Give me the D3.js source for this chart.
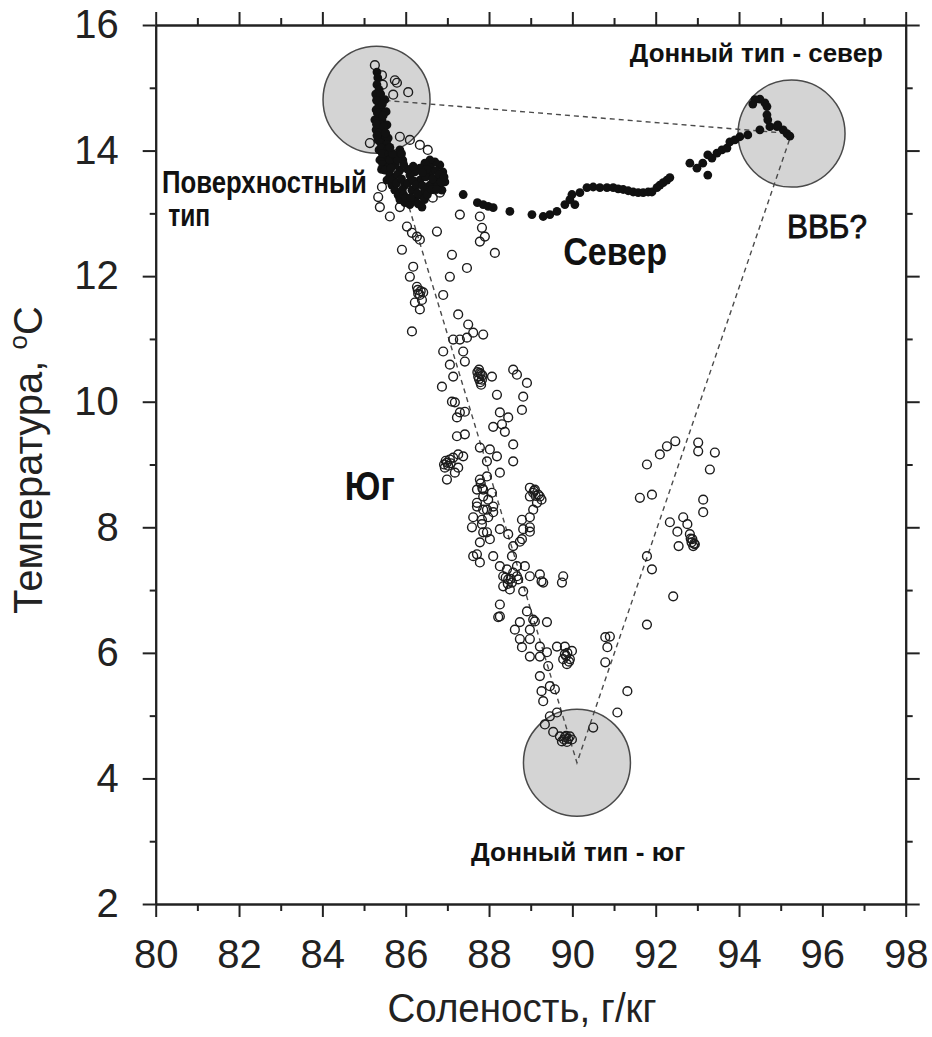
<!DOCTYPE html>
<html>
<head>
<meta charset="utf-8">
<script src="https://cdn.jsdelivr.net/npm/d3@7"></script>
<style>
  body { margin: 0; background: #fff; }
  svg { display: block; }
  text { font-family: "Liberation Sans", Arial, Helvetica, sans-serif; }
</style>
</head>
<body>
<svg id="chart" width="932" height="1037"></svg>
<script>
// axis ticks
const xTicks = [80, 82, 84, 86, 88, 90, 92, 94, 96, 98];
const xMinor = [81, 83, 85, 87, 89, 91, 93, 95, 97];
const yTicks = [2, 4, 6, 8, 10, 12, 14, 16];
const yMinor = [3, 5, 7, 9, 11, 13, 15];

// water types (salinity, temperature) - centres of the grey circles / triangle
const waterTypes = [
  [85.30, 14.81],  // поверхностный
  [95.26, 14.27],  // донный - север
  [90.11, 4.25]    // донный - юг
];

// "Юг" - open circles  [salinity, temperature]
const southPoints = [
  [85.26,15.36],[85.43,15.20],[85.45,15.05],[85.74,15.12],[86.06,14.93],[85.70,14.89],[85.79,15.08],
  [85.14,14.12],[85.86,14.22],[86.10,14.17],[86.34,14.09],[86.53,14.01],[86.27,13.58],[86.65,13.25],[86.82,13.33],
  [85.43,13.42],[85.34,13.26],[85.38,13.10],[85.62,12.95],[85.86,13.10],[86.03,12.79],[86.15,12.69],[86.27,12.63],[86.34,12.58],[86.75,12.71],
  [87.30,12.98],[87.78,12.95],[87.83,12.77],[87.90,12.63],[87.78,12.55],[88.14,12.37],[85.91,12.42],[86.18,12.15],[86.10,11.99],[87.11,12.34],[87.06,11.99],[87.47,12.13],
  [86.27,11.83],[86.42,11.74],[86.39,11.62],[86.34,11.47],[86.22,11.58],[86.34,11.70],[86.29,11.78],[86.30,11.72],[86.36,11.76],[86.15,11.12],
  [86.90,11.70],[87.26,11.39],[87.50,11.23],[87.62,11.10],[87.86,11.07],
  [87.14,10.99],[87.30,10.99],[87.47,11.02],[86.90,10.80],[87.38,10.80],[87.42,10.64],[87.06,10.59],[87.14,10.40],[86.87,10.24],
  [87.78,10.46],[87.83,10.35],[87.76,10.51],[87.81,10.27],[87.74,10.40],[87.80,10.44],[87.76,10.36],[87.84,10.42],[87.79,10.31],[87.72,10.47],
  [88.07,10.40],[88.19,10.11],[88.58,10.51],[88.67,10.43],[88.91,10.30],[88.82,10.08],[88.79,9.87],
  [87.11,10.00],[87.42,9.84],[87.23,9.75],[88.26,9.83],[88.46,9.75],[88.10,9.60],[88.38,9.52],[87.23,9.45],[87.42,9.48],[88.58,9.32],[87.78,9.27],[88.02,9.24],[88.19,9.13],[87.95,9.05],[88.58,9.05],
  [87.26,9.16],[87.38,9.13],[86.99,9.03],[86.94,8.95],[87.06,9.08],[86.96,9.06],[87.02,8.98],[87.08,9.02],[86.92,9.00],
  [86.99,8.76],[87.18,8.87],[88.26,8.87],[87.78,8.76],[87.95,8.81],[87.80,8.70],[87.84,8.62],[87.71,8.60],[87.86,8.49],[88.07,8.55],
  [87.71,8.33],[87.95,8.28],[87.62,8.16],[87.83,8.12],[88.10,8.24],[87.59,8.00],[87.86,7.92],[88.26,7.97],[88.46,7.89],[87.78,7.76],[88.02,7.81],
  [88.98,8.63],[89.06,8.55],[89.08,8.58],[89.12,8.50],[89.22,8.49],[89.15,8.39],[89.06,8.28],[88.98,8.16],[88.79,8.12],[88.82,7.97],[88.98,8.00],[88.74,7.77],[88.58,7.70],
  [87.62,7.54],[87.78,7.44],[88.10,7.54],[88.26,7.38],[88.43,7.33],[88.67,7.38],[88.34,7.22],[88.46,7.17],[88.58,7.28],[88.70,7.17],[88.40,7.20],[88.52,7.18],[88.45,7.10],
  [88.50,7.01],[88.82,6.98],[88.98,7.22],[89.22,7.25],[89.30,7.12],[89.78,7.22],[89.75,7.12],
  [88.26,6.77],[88.26,6.58],[88.91,6.66],[89.06,6.53],[88.74,6.49],[89.39,6.49],
  [87.30,9.83],[87.18,9.99],[87.14,9.11],[87.26,8.95],[88.31,9.64],[87.86,8.60],[87.98,8.44],[87.71,8.39],[87.86,8.28],[88.10,8.33],[87.83,8.05],[87.98,8.16],
  [87.95,7.92],[87.71,7.57],[88.34,7.06],[88.55,7.12],[88.67,7.22],[88.86,7.38],[88.55,7.54],[88.79,7.81],[88.98,7.93],[88.98,8.49],[89.10,8.60],[89.18,8.52],[89.26,8.44],[89.26,7.14],
  [88.22,6.57],[88.62,6.37],[88.98,6.37],[89.10,6.50],[88.74,6.22],[88.98,6.22],[88.79,6.09],[88.98,5.94],[89.22,6.10],[89.22,5.94],[89.39,6.01],[89.42,5.79],
  [89.22,5.63],[89.26,5.39],[89.30,5.23],[89.46,5.47],[89.58,5.42],[89.63,5.05],[89.46,4.99],[89.34,4.86],[89.54,4.74],
  [89.63,6.10],[89.82,6.10],[89.82,5.98],[89.94,5.90],[89.87,5.82],[89.99,6.03],[89.78,5.90],[89.85,5.95],[89.92,5.86],[89.88,6.00],
  [89.70,4.67],[89.82,4.66],[89.94,4.67],[89.87,4.58],[89.75,4.59],[89.99,4.62],[89.80,4.62],[89.90,4.63],[89.85,4.68],[90.50,4.81],
  [91.08,5.05],[91.32,5.39],[90.79,5.85],[90.84,6.09],[90.79,6.25],[90.90,6.26],[91.79,6.45],[92.42,6.90],[91.79,7.54],[91.91,7.33],
  [91.62,8.47],[91.91,8.52],[91.79,9.00],[92.10,9.16],[92.27,9.29],[92.47,9.37],[93.02,9.35],[93.02,9.21],[93.42,9.19],[93.30,8.92],[93.14,8.44],[93.14,8.24],
  [92.34,8.08],[92.66,8.16],[92.76,8.05],[92.52,7.93],[92.55,7.70],[92.88,7.81],[92.82,7.89],[92.94,7.73],[92.90,7.70],[92.86,7.76],[92.92,7.74],[92.84,7.82]
];

// "Север" - filled dots  [salinity, temperature]
const northPoints = [
  [85.31,15.25],[85.33,15.16],[85.31,15.05],[85.36,14.97],[85.33,14.89],[85.38,14.81],[85.36,14.73],[85.41,14.65],[85.38,14.57],[85.43,14.49],
  [85.41,14.41],[85.45,14.33],[85.43,14.25],[85.48,14.17],[85.45,14.09],[85.50,14.01],[85.53,13.93],[85.48,13.85],[85.55,13.77],[85.29,14.65],
  [85.26,14.49],[85.29,14.33],[85.33,14.17],[85.36,14.01],[85.38,13.85],[85.50,14.81],[85.53,14.62],[85.55,14.41],[85.58,14.20],
  [85.28,14.90],[85.40,14.90],[85.30,14.80],[85.44,14.74],[85.32,14.60],[85.46,14.56],[85.30,14.42],[85.47,14.38],[85.35,14.28],[85.52,14.28],
  [85.31,14.24],[85.40,14.12],[85.55,14.10],[85.42,14.04],[85.58,14.03],[85.44,13.95],[85.60,13.95],[85.45,13.78],[85.60,13.75],[85.42,13.70],
  [85.50,13.69],[85.62,13.61],[85.55,13.53],[85.67,13.45],[85.74,13.37],[85.82,13.29],[85.86,13.22],[85.98,13.17],[86.10,13.14],[86.22,13.22],
  [86.34,13.29],[86.46,13.37],[86.58,13.45],[86.70,13.53],[86.82,13.57],[86.89,13.66],[86.82,13.77],[86.70,13.82],[86.58,13.85],[86.46,13.80],
  [86.34,13.72],[86.22,13.66],[86.10,13.61],[85.86,13.69],[85.74,13.77],[85.98,13.45],[86.15,13.37],[86.34,13.53],[86.58,13.61],[86.77,13.45],
  [86.87,13.37],[86.94,13.50],[85.62,13.85],[85.74,13.93],[85.86,14.01],[85.93,13.85],[86.39,13.10],
  [85.65,13.72],[85.70,13.55],[85.78,13.48],[85.80,13.62],[85.90,13.55],[85.92,13.38],[85.95,13.30],[86.00,13.25],[86.05,13.48],[86.05,13.70],
  [86.12,13.25],[86.18,13.52],[86.25,13.45],[86.28,13.32],[86.30,13.15],[86.40,13.44],[86.45,13.22],[86.48,13.58],[86.52,13.30],[86.60,13.72],
  [86.62,13.38],[86.65,13.55],[86.72,13.68],[86.75,13.38],[86.80,13.62],[86.85,13.50],[86.92,13.58],[86.50,13.70],[86.40,13.65],[86.18,13.75],
  [85.95,13.78],[85.80,13.85],[85.68,13.95],[85.90,13.95],[85.62,14.05],
  [87.38,13.30],[87.72,13.17],[87.86,13.14],[87.98,13.11],[88.10,13.09],[88.50,13.03],[89.03,12.98],[89.30,12.95],[89.46,12.98],[89.63,13.03],
  [89.82,13.14],[89.94,13.22],[89.99,13.30],[90.06,13.14],[90.18,13.33],[90.35,13.41],[90.50,13.42],[90.66,13.41],[90.83,13.41],[90.98,13.41],
  [91.10,13.39],[91.22,13.38],[91.34,13.36],[91.46,13.34],[91.58,13.33],[91.70,13.33],[91.82,13.34],[91.91,13.34],[92.03,13.41],[92.10,13.45],
  [92.18,13.49],[92.27,13.53],[92.34,13.57],[92.82,13.80],[92.99,13.72],[93.13,13.80],[93.25,13.61],[93.25,13.93],[93.35,13.88],[93.47,13.96],
  [93.59,14.01],[93.71,14.04],[93.78,14.14],[93.90,14.17],[94.02,14.22],[94.21,14.25],[94.50,14.33],[94.74,14.38],[94.91,14.38],[95.06,14.33],
  [95.15,14.27],[95.22,14.23],[94.93,14.41],[94.69,14.49],[94.67,14.57],[94.67,14.70],[94.62,14.76],[94.50,14.82],[94.38,14.81],[94.33,14.74]
];

const ink = "#222";
const svg = d3.select("#chart");
svg.append("rect").attr("width", 932).attr("height", 1037).attr("fill", "#fff");

const x = d3.scaleLinear().domain([80, 98]).range([155.7, 905.7]);
const y = d3.scaleLinear().domain([2, 16]).range([904, 25]);

// grey circles for water types
svg.append("g")
  .selectAll("circle")
  .data(waterTypes)
  .enter()
  .append("circle")
  .attr("cx", d => x(d[0]))
  .attr("cy", d => y(d[1]))
  .attr("r", 53.5)
  .attr("fill", "#d4d4d4")
  .attr("stroke", "#4a4a4a")
  .attr("stroke-width", 1.5);

// dashed mixing triangle
svg.append("path")
  .datum(waterTypes)
  .attr("d", d3.line().x(d => x(d[0])).y(d => y(d[1])).curve(d3.curveLinearClosed))
  .attr("fill", "none")
  .attr("stroke", "#4a4a4a")
  .attr("stroke-width", 1.4)
  .attr("stroke-dasharray", "5,4");

// open circles - south
svg.append("g")
  .selectAll("circle")
  .data(southPoints)
  .enter()
  .append("circle")
  .attr("cx", d => x(d[0]))
  .attr("cy", d => y(d[1]))
  .attr("r", 4.4)
  .attr("fill", "none")
  .attr("stroke", "#1c1c1c")
  .attr("stroke-width", 1.4);

// filled dots - north
svg.append("g")
  .selectAll("circle")
  .data(northPoints)
  .enter()
  .append("circle")
  .attr("cx", d => x(d[0]))
  .attr("cy", d => y(d[1]))
  .attr("r", 4.4)
  .attr("fill", "#111");

// annotations, anchored in data units
function note(label, s, t, size, len, weight, thick) {
  svg.append("text")
    .attr("x", x(s))
    .attr("y", y(t))
    .attr("font-size", size)
    .attr("font-weight", weight)
    .attr("fill", "#111")
    .attr("stroke", thick ? "#111" : "none")
    .attr("stroke-width", thick || 0)
    .attr("textLength", len)
    .attr("lengthAdjust", "spacingAndGlyphs")
    .text(label);
}
note("Поверхностный", 80.15, 13.33, 31, 205, 700);
note("тип", 80.30, 12.80, 31, 42, 700);
note("Донный тип - север", 91.38, 15.41, 25, 253, 700);
note("Донный тип - юг", 87.57, 2.68, 25, 214, 700);
note("Север", 89.78, 12.17, 38, 104, 700);
note("ВВБ?", 95.15, 12.61, 34, 80, 400, 0.9);
note("Юг", 84.54, 8.44, 40, 50, 700);

// axes
function axis(gen, tx, ty, labels) {
  const g = svg.append("g").attr("transform", `translate(${tx},${ty})`).call(gen);
  g.select(".domain").attr("stroke", ink).attr("stroke-width", 2);
  g.selectAll(".tick line").attr("stroke", ink).attr("stroke-width", 2);
  if (labels) {
    g.selectAll(".tick text").attr("fill", ink).attr("font-size", 40)
      .attr("font-family", "\"Liberation Sans\", Arial, sans-serif");
  } else {
    g.selectAll(".tick text").remove();
  }
  return g;
}
const [x0, x1] = x.range();
const [y0, y1] = y.range();

axis(d3.axisBottom(x).tickValues(xTicks).tickSize(13).tickSizeOuter(0).tickPadding(23).tickFormat(d3.format("d")), 0, y0, true);
axis(d3.axisBottom(x).tickValues(xMinor).tickSize(7).tickSizeOuter(0), 0, y0, false);
axis(d3.axisTop(x).tickValues(xTicks).tickSize(13).tickSizeOuter(0), 0, y1, false);
axis(d3.axisTop(x).tickValues(xMinor).tickSize(7).tickSizeOuter(0), 0, y1, false);
axis(d3.axisLeft(y).tickValues(yTicks).tickSize(13).tickSizeOuter(0).tickPadding(24).tickFormat(d3.format("d")), x0, 0, true);
axis(d3.axisLeft(y).tickValues(yMinor).tickSize(6).tickSizeOuter(0), x0, 0, false);
axis(d3.axisRight(y).tickValues(yTicks).tickSize(14).tickSizeOuter(0), x1, 0, false);
axis(d3.axisRight(y).tickValues(yMinor).tickSize(7).tickSizeOuter(0), x1, 0, false);

// axis titles
svg.append("text")
  .attr("x", 522)
  .attr("y", 1022)
  .attr("text-anchor", "middle")
  .attr("font-size", 41)
  .attr("fill", ink)
  .attr("textLength", 269)
  .attr("lengthAdjust", "spacingAndGlyphs")
  .text("Соленость, г/кг");

const yt = svg.append("text")
  .attr("transform", "translate(42,460) rotate(-90)")
  .attr("text-anchor", "middle")
  .attr("font-size", 40)
  .attr("fill", ink);
yt.append("tspan").text("Температура, ");
yt.append("tspan").attr("font-size", 26).attr("dy", -15).text("o");
yt.append("tspan").attr("dy", 15).text("C");
</script>
</body>
</html>
